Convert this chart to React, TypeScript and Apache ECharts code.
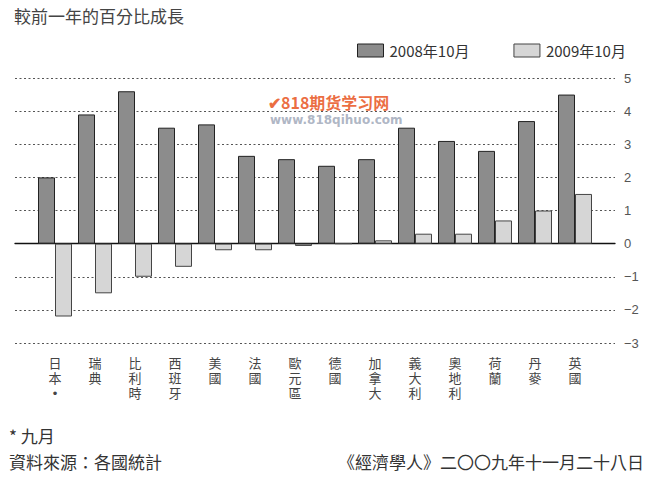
import React, { useEffect, useRef } from "react";
import * as echarts from "echarts";

const categories = ["日本*", "瑞典", "比利時", "西班牙", "美國", "法國", "歐元區", "德國", "加拿大", "義大利", "奧地利", "荷蘭", "丹麥", "英國"];
const series2008 = [2.0, 3.9, 4.6, 3.5, 3.6, 2.65, 2.55, 2.35, 2.55, 3.5, 3.1, 2.8, 3.7, 4.5];
const series2009 = [-2.2, -1.5, -1.0, -0.7, -0.2, -0.2, -0.07, 0, 0.1, 0.3, 0.3, 0.7, 1.0, 1.5];
const seriesNames = ["2008年10月", "2009年10月"];
const yMin = -3;
const yMax = 5;

const FONT = "'Noto Sans CJK TC', 'Noto Sans', sans-serif";
const LABEL_FONT = "'Liberation Sans', 'Noto Sans CJK TC', sans-serif";

export default function App() {
  const ref = useRef<HTMLDivElement>(null);
  useEffect(() => {
    document.body.style.margin = "0";
    const chart = echarts.init(ref.current!, null, { renderer: "svg" });
    chart.setOption({
      animation: false,
      backgroundColor: "#ffffff",
      textStyle: { fontFamily: FONT },
      title: {
        text: "較前一年的百分比成長",
        left: 9,
        top: 2,
        textStyle: { fontSize: 17, fontWeight: "normal", color: "#444", fontFamily: FONT },
      },
      legend: {
        left: 352,
        top: 38,
        itemWidth: 26,
        itemHeight: 13,
        itemGap: 44,
        selectedMode: false,
        textStyle: { fontSize: 15, color: "#333", fontFamily: FONT, padding: [0, 0, 0, 1] },
        data: [
          { name: seriesNames[0], icon: "rect", itemStyle: { color: "#8c8c8c", borderColor: "#222", borderWidth: 1 } },
          { name: seriesNames[1], icon: "rect", itemStyle: { color: "#d6d6d6", borderColor: "#444", borderWidth: 1 } },
        ],
      },
      grid: [
        { left: 15, right: 43, top: 78, height: 265, containLabel: false },
        { left: 35, width: 560, top: 78, height: 265, containLabel: false },
      ],
      xAxis: [
        {
          gridIndex: 0,
          type: "value",
          min: 0,
          max: 1,
          axisLine: { show: true, onZero: true, lineStyle: { color: "#111", width: 1.3 } },
          axisTick: { show: false },
          axisLabel: { show: false },
          splitLine: { show: false },
        },
        {
          gridIndex: 1,
          type: "category",
          data: categories,
          axisLine: { show: false, onZero: false },
          axisTick: { show: false },
          axisLabel: {
            margin: 13,
            interval: 0,
            fontSize: 13,
            lineHeight: 15,
            color: "#444",
            fontFamily: LABEL_FONT,
            formatter: (v: string) => v.replace("*", "•").split("").join("\n"),
          },
        },
      ],
      yAxis: [
        {
          gridIndex: 0,
          type: "value",
          position: "right",
          min: yMin,
          max: yMax,
          interval: 1,
          axisLine: { show: false },
          axisTick: { show: false },
          axisLabel: {
            margin: 9,
            fontSize: 13,
            color: "#555",
            fontFamily: "'Liberation Sans', sans-serif",
            formatter: (v: number) => (v < 0 ? "−" + Math.abs(v) : String(v)),
          },
          splitLine: { show: true, lineStyle: { color: "#555", width: 1.2, type: [2, 2.5] } },
        },
        {
          gridIndex: 1,
          type: "value",
          min: yMin,
          max: yMax,
          interval: 1,
          show: false,
          splitLine: { show: false },
        },
      ],
      series: [
        {
          type: "line",
          xAxisIndex: 0,
          yAxisIndex: 0,
          data: [],
          silent: true,
        },
        {
          name: seriesNames[0],
          type: "bar",
          xAxisIndex: 1,
          yAxisIndex: 1,
          data: series2008,
          barWidth: 17,
          barGap: "0%",
          itemStyle: { color: "#8c8c8c", borderColor: "#222", borderWidth: 1 },
          z: 3,
        },
        {
          name: seriesNames[1],
          type: "bar",
          xAxisIndex: 1,
          yAxisIndex: 1,
          data: series2009,
          barWidth: 17,
          barGap: "0%",
          itemStyle: { color: "#d6d6d6", borderColor: "#444", borderWidth: 1 },
          z: 3,
        },
      ],
      graphic: [
        {
          type: "text",
          left: 268,
          top: 94,
          style: { text: "✔818期货学习网", fill: "#e8541e", font: "bold 16px 'Noto Sans CJK SC', sans-serif", opacity: 0.85 },
        },
        {
          type: "text",
          left: 270,
          top: 114,
          style: { text: "www.818qihuo.com", fill: "#9aa3b5", font: "bold 12px 'DejaVu Sans', sans-serif", opacity: 0.8 },
        },
        {
          type: "text",
          left: 9,
          top: 427,
          style: { text: "* 九月", fill: "#333", font: "17px " + FONT },
        },
        {
          type: "text",
          left: 9,
          top: 453,
          style: { text: "資料來源：各國統計", fill: "#333", font: "17px " + FONT },
        },
        {
          type: "text",
          right: 14,
          top: 453,
          style: { text: "《經濟學人》二〇〇九年十一月二十八日", fill: "#333", font: "17px " + FONT },
        },
      ],
    });
    return () => chart.dispose();
  }, []);
  return <div ref={ref} style={{ width: 658, height: 479 }} />;
}
